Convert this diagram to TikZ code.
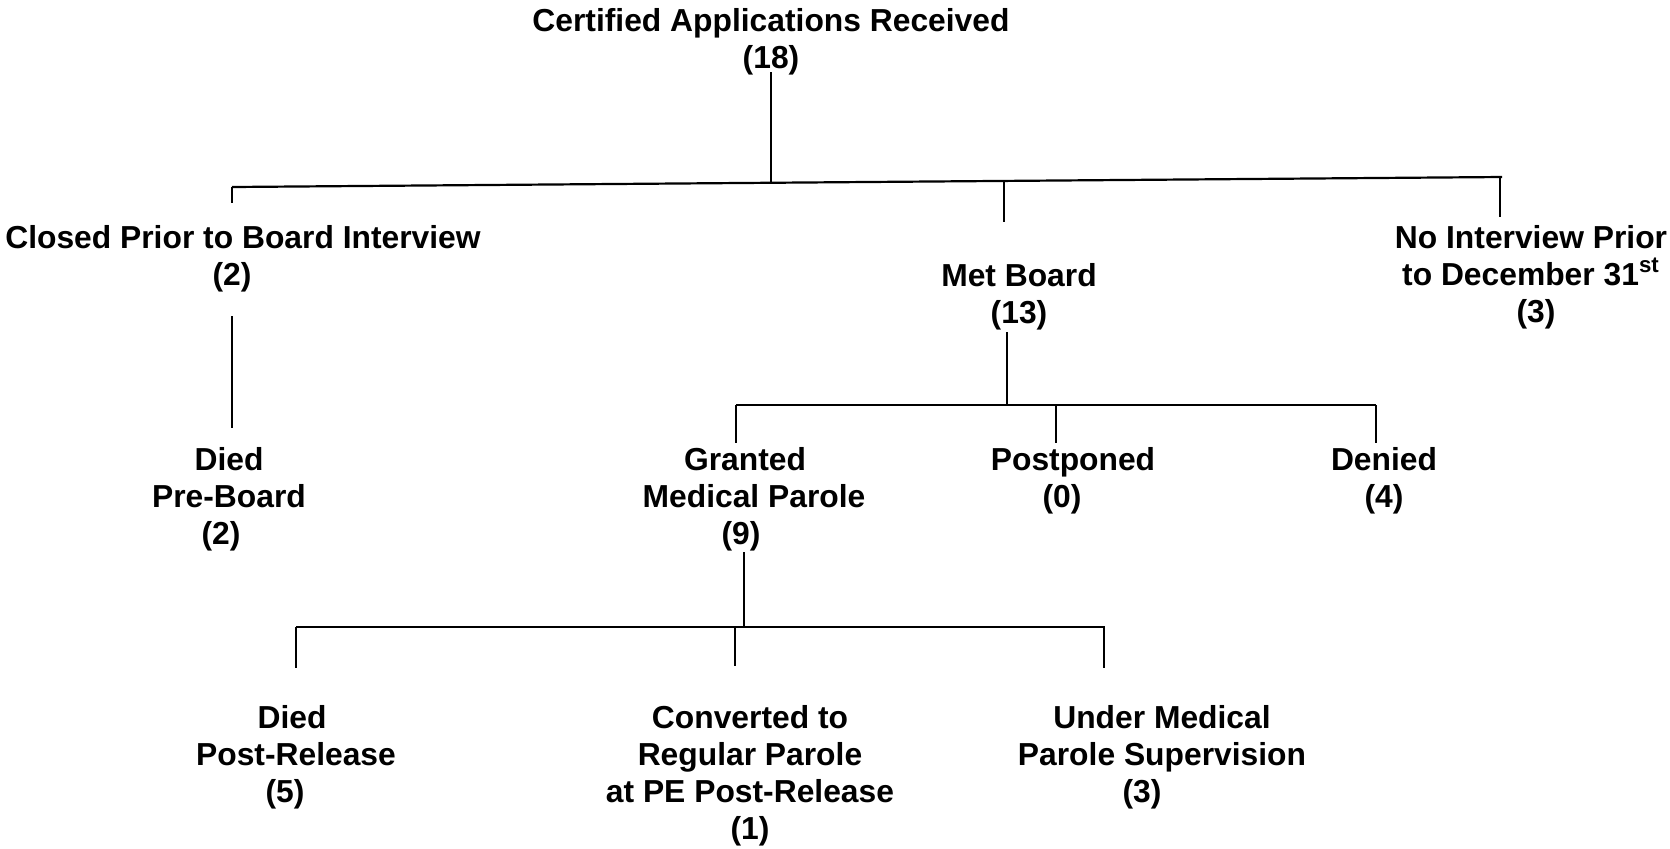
\documentclass[tikz,border=0pt]{standalone}
\usepackage{fontspec}
\setmainfont{Liberation Sans}
\begin{document}
\begin{tikzpicture}[x=0.5pt,y=-0.5pt,
  lbl/.style={anchor=north,inner sep=0pt,align=center,font=\fontsize{15.9pt}{18.5pt}\selectfont\bfseries},
  vline/.style={line width=0.6pt},
  hline/.style={line width=1.1pt}]
\useasboundingbox (0,0) rectangle (1670,848);
% text nodes
\node[lbl] (title) at (771,8) {Certified Applications Received\\(18)};
\node[lbl] (closed) at (243,225) {Closed Prior to Board Interview\\(2)\hspace*{11pt}};
\node[lbl] (met) at (1019,263) {Met Board\\(13)};
\node[lbl] (noint) at (1531,225) {No Interview Prior\\to December 31\textsuperscript{st}\\\hspace*{5pt}(3)};
\node[lbl] (diedpre) at (229,447) {Died\\Pre-Board\\(2)\hspace*{8pt}};
\node[lbl] (granted) at (754,447) {Granted\hspace*{9pt}\\Medical Parole\\(9)\hspace*{13pt}};
\node[lbl] (postponed) at (1073,447) {Postponed\\(0)\hspace*{11pt}};
\node[lbl] (denied) at (1384,447) {Denied\\(4)};
\node[lbl] (diedpost) at (296,705) {Died\hspace*{4pt}\\Post-Release\\(5)\hspace*{11pt}};
\node[lbl] (converted) at (750,705) {Converted to\\Regular Parole\\at PE Post-Release\\(1)};
\node[lbl] (under) at (1162,705) {Under Medical\\Parole Supervision\\(3)\hspace*{20pt}};
% connector coordinates
\coordinate (t0) at (771,72);
\coordinate (t1) at (771,182.8);
\coordinate (b1l) at (232,187);
\coordinate (b1r) at (1502,177);
\coordinate (m1) at (1004,181);
\coordinate (m2) at (1004,222);
\coordinate (n1) at (1500,177);
\coordinate (n2) at (1500,217);
\coordinate (c1) at (232,203);
\coordinate (c3) at (232,316);
\coordinate (c4) at (232,428);
\coordinate (mt) at (1007,332);
\coordinate (mb) at (1007,405);
\coordinate (b2l) at (736,405);
\coordinate (b2r) at (1376,405);
\coordinate (g1) at (736,443);
\coordinate (p0) at (1056,405);
\coordinate (p1) at (1056,443);
\coordinate (d1) at (1376,443);
\coordinate (gt) at (744,552);
\coordinate (gb) at (744,627);
\coordinate (b3l) at (296,627);
\coordinate (b3r) at (1105,627);
\coordinate (e1) at (296,668);
\coordinate (v0) at (735,627);
\coordinate (v1) at (735,666);
\coordinate (u0) at (1104,627);
\coordinate (u1) at (1104,668);
% connectors
\draw[vline] (t0) -- (t1);
\draw[hline] (b1l) -- (b1r);
\draw[vline] (b1l) -- (c1);
\draw[vline] (m1) -- (m2);
\draw[vline] (n1) -- (n2);
\draw[vline] (c3) -- (c4);
\draw[vline] (mt) -- (mb);
\draw[hline] (b2l) -- (b2r);
\draw[vline] (b2l) -- (g1);
\draw[vline] (p0) -- (p1);
\draw[vline] (b2r) -- (d1);
\draw[vline] (gt) -- (gb);
\draw[hline] (b3l) -- (b3r);
\draw[vline] (b3l) -- (e1);
\draw[vline] (v0) -- (v1);
\draw[vline] (u0) -- (u1);
\end{tikzpicture}
\end{document}
